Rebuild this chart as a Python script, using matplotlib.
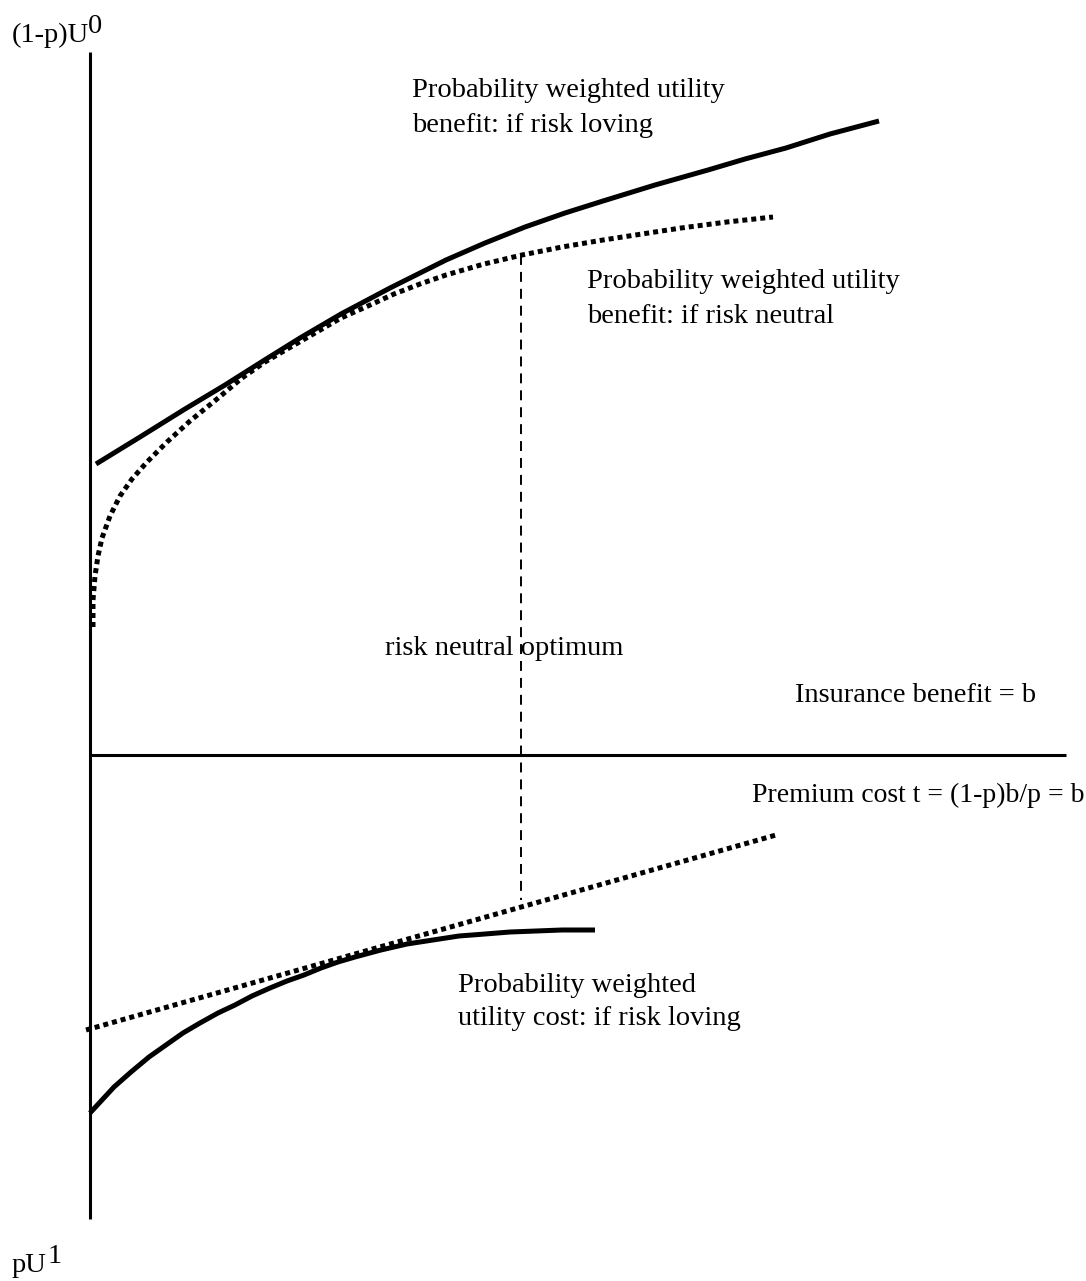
import matplotlib
matplotlib.use("Agg")
import matplotlib.pyplot as plt
from matplotlib import rcParams

rcParams['font.family'] = 'serif'
rcParams['font.serif'] = ['Liberation Serif']

# Diagram values (origin where the two axes cross)
# benefit curve if risk loving
loving_b = [6, 50, 95, 135, 173, 210, 251, 300, 356, 395, 435, 475, 513,
            565, 618, 655, 696, 740, 789]
loving_u = [291, 318, 346, 370, 394, 417, 441, 467, 495, 512, 528, 542, 554,
            570, 585, 596, 607, 621, 634]

# benefit curve if risk neutral
neutral_b = [3, 3, 5, 8, 12, 20, 30, 42, 57, 77, 100, 127, 152, 175, 199,
             225, 251, 278, 304, 330, 356, 394, 432, 472, 513, 552, 591,
             637, 683]
neutral_u = [128, 155, 179, 199, 217, 239, 259, 276, 293, 313, 334, 356, 377,
             393, 407, 422, 437, 449, 461, 471, 480, 491, 500, 508, 515, 521,
             527, 533, 538]

# premium cost line (risk neutral) and utility cost if risk loving
premium_b = [-4, 686]
premium_u = [-275, -80]
cost_b = [0, 12, 24, 41, 59, 76, 93, 110, 128, 145, 162, 180, 197, 214, 231,
          248, 265, 291, 317, 343, 369, 395, 420, 446, 472, 505]
cost_u = [-358, -345, -332, -317, -302, -290, -278, -268, -258, -250, -241,
          -233, -226, -220, -213, -207, -202, -195, -189, -185, -181, -179,
          -177, -176, -175, -175]

# risk neutral optimum
opt_b = 431
opt_top, opt_bottom = 500, -145

# axes extents
x_axis = [-1, 976]
y_axis = [-464, 703]

fig = plt.figure(figsize=(10.86, 12.81), dpi=100)
ax = fig.add_axes([0, 0, 1, 1])
ax.set_xlim(-90, 996)
ax.set_ylim(-526, 755)
ax.axis('off')

ax.plot([0, 0], y_axis, color='black', lw=2.2, solid_capstyle='butt')
ax.plot(x_axis, [0, 0], color='black', lw=2.2, solid_capstyle='butt')

curve = dict(color='black', lw=3.6, solid_capstyle='butt',
             solid_joinstyle='round', dash_joinstyle='round')
ax.plot(loving_b, loving_u, **curve)
ax.plot(neutral_b, neutral_u, dashes=(1.0, 0.8), **curve)
ax.plot(premium_b, premium_u, dashes=(1.0, 0.8), **curve)
ax.plot(cost_b, cost_u, **curve)
ax.plot([opt_b, opt_b], [opt_top, opt_bottom], color='black', lw=1.4,
        dashes=(5.1, 3.6))

fs = 20.5
kw = dict(fontsize=fs, va='baseline', ha='left', color='black')
ax.text(-78, 713, "(1-p)U", **kw)
ax.text(-2, 722, "0", **kw)
ax.text(-78, -517, "pU", **kw)
ax.text(-42, -508, "1", **kw)
ax.text(322, 658, "Probability weighted utility", **kw)
ax.text(322, 623, "benefit: if risk loving", **kw)
ax.text(497, 467, "Probability weighted utility", **kw)
ax.text(497, 432, "benefit: if risk neutral", **kw)
ax.text(295, 100, "risk neutral optimum", **kw)
ax.text(705, 53, "Insurance benefit = b", **kw)
ax.text(662, -47, "Premium cost t = (1-p)b/p = b",
        **dict(kw, fontsize=20))
ax.text(368, -237, "Probability weighted", **kw)
ax.text(368, -270, "utility cost: if risk loving", **kw)

fig.savefig("out.png", dpi=100)
